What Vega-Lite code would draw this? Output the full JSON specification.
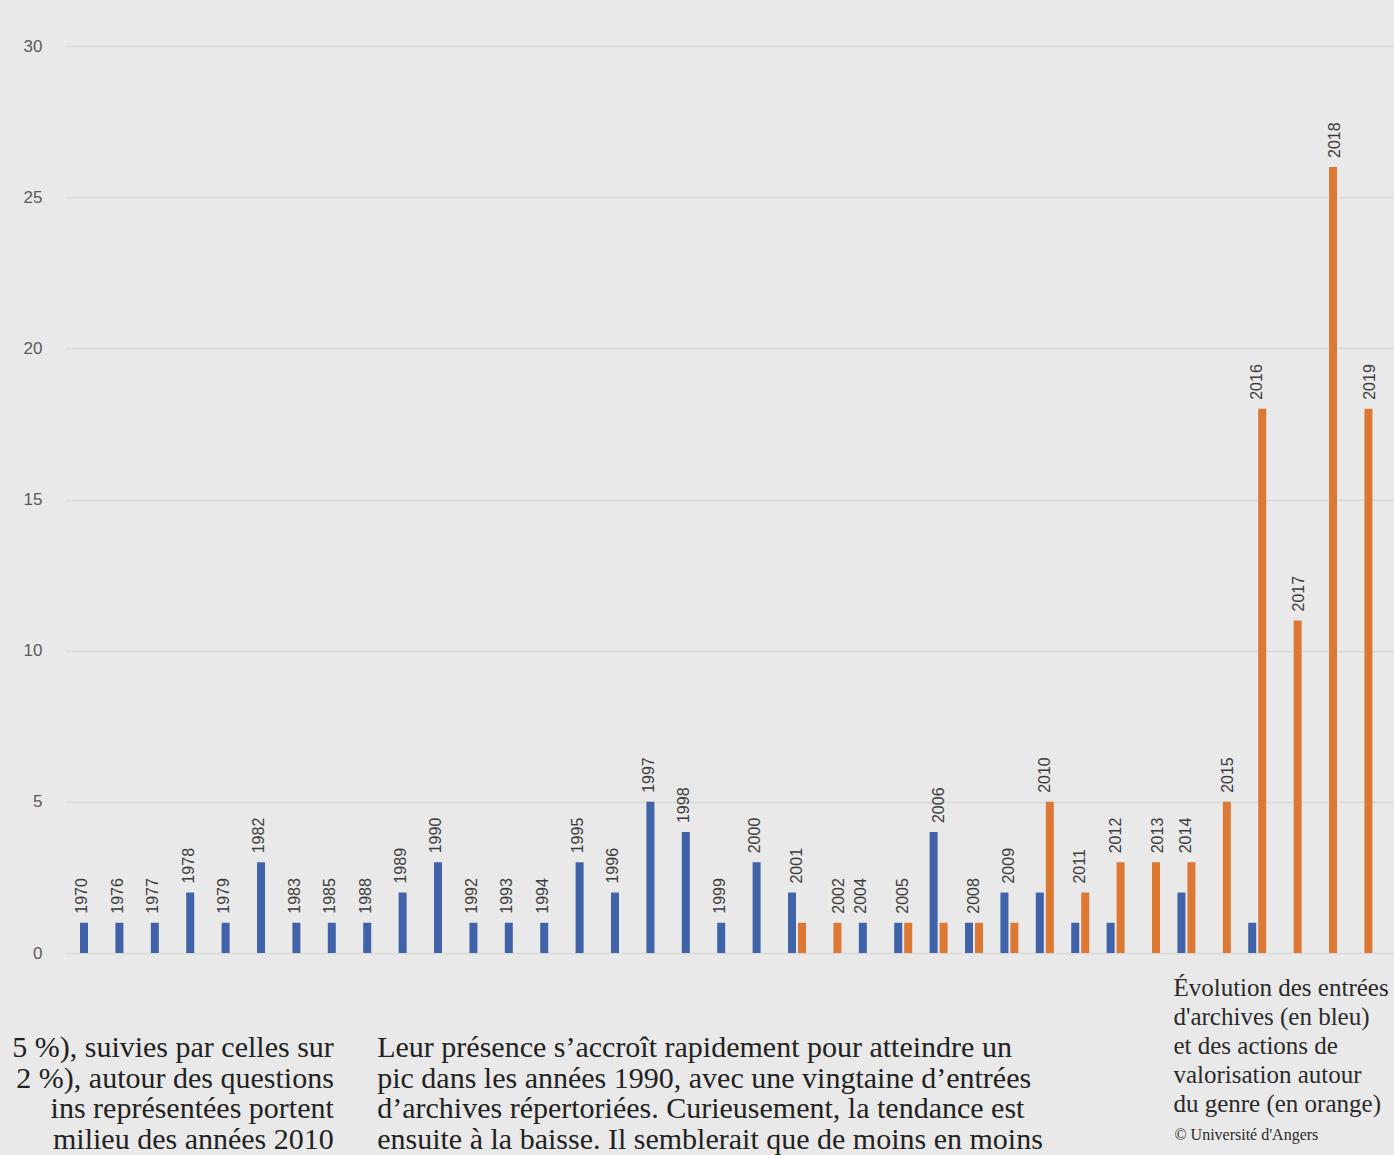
{
  "$schema": "https://vega.github.io/schema/vega-lite/v6.json",
  "width": 1329,
  "height": 907,
  "autosize": {"type": "none"},
  "padding": {"left": 65, "top": 46, "right": 0, "bottom": 202},
  "background": "#e9e9e9",
  "config": {"view": {"stroke": null}, "font": "Liberation Sans"},
  "data": {
    "values": [
      {"year": "1970", "series": "archives", "value": 1},
      {"year": "1976", "series": "archives", "value": 1},
      {"year": "1977", "series": "archives", "value": 1},
      {"year": "1978", "series": "archives", "value": 2},
      {"year": "1979", "series": "archives", "value": 1},
      {"year": "1982", "series": "archives", "value": 3},
      {"year": "1983", "series": "archives", "value": 1},
      {"year": "1985", "series": "archives", "value": 1},
      {"year": "1988", "series": "archives", "value": 1},
      {"year": "1989", "series": "archives", "value": 2},
      {"year": "1990", "series": "archives", "value": 3},
      {"year": "1992", "series": "archives", "value": 1},
      {"year": "1993", "series": "archives", "value": 1},
      {"year": "1994", "series": "archives", "value": 1},
      {"year": "1995", "series": "archives", "value": 3},
      {"year": "1996", "series": "archives", "value": 2},
      {"year": "1997", "series": "archives", "value": 5},
      {"year": "1998", "series": "archives", "value": 4},
      {"year": "1999", "series": "archives", "value": 1},
      {"year": "2000", "series": "archives", "value": 3},
      {"year": "2001", "series": "archives", "value": 2},
      {"year": "2001", "series": "valorisation", "value": 1},
      {"year": "2002", "series": "valorisation", "value": 1},
      {"year": "2004", "series": "archives", "value": 1},
      {"year": "2005", "series": "archives", "value": 1},
      {"year": "2005", "series": "valorisation", "value": 1},
      {"year": "2006", "series": "archives", "value": 4},
      {"year": "2006", "series": "valorisation", "value": 1},
      {"year": "2008", "series": "archives", "value": 1},
      {"year": "2008", "series": "valorisation", "value": 1},
      {"year": "2009", "series": "archives", "value": 2},
      {"year": "2009", "series": "valorisation", "value": 1},
      {"year": "2010", "series": "archives", "value": 2},
      {"year": "2010", "series": "valorisation", "value": 5},
      {"year": "2011", "series": "archives", "value": 1},
      {"year": "2011", "series": "valorisation", "value": 2},
      {"year": "2012", "series": "archives", "value": 1},
      {"year": "2012", "series": "valorisation", "value": 3},
      {"year": "2013", "series": "valorisation", "value": 3},
      {"year": "2014", "series": "archives", "value": 2},
      {"year": "2014", "series": "valorisation", "value": 3},
      {"year": "2015", "series": "valorisation", "value": 5},
      {"year": "2016", "series": "archives", "value": 1},
      {"year": "2016", "series": "valorisation", "value": 18},
      {"year": "2017", "series": "valorisation", "value": 11},
      {"year": "2018", "series": "valorisation", "value": 26},
      {"year": "2019", "series": "valorisation", "value": 18}
    ]
  },
  "resolve": {"scale": {"xOffset": "independent"}},
  "layer": [
    {
      "mark": {"type": "bar"},
      "encoding": {
        "x": {
          "field": "year",
          "type": "ordinal",
          "scale": {"paddingInner": 0.435, "paddingOuter": 0.4885, "align": 0.405},
          "axis": null
        },
        "xOffset": {
          "field": "series",
          "type": "nominal",
          "scale": {"domain": ["archives", "valorisation"], "paddingInner": 0.2, "paddingOuter": 0.1}
        },
        "y": {
          "field": "value",
          "type": "quantitative",
          "scale": {"domain": [0, 30], "nice": false, "zero": true},
          "axis": {
            "values": [0, 5, 10, 15, 20, 25, 30],
            "title": null,
            "domain": false,
            "ticks": false,
            "labelPadding": 23,
            "labelFont": "Liberation Sans",
            "labelFontSize": 17,
            "labelColor": "#5a5a5a",
            "grid": true,
            "gridColor": "#d9d9d9",
            "gridWidth": 1.5
          }
        },
        "color": {
          "field": "series",
          "type": "nominal",
          "scale": {"domain": ["archives", "valorisation"], "range": ["#3f62a8", "#dd7734"]},
          "legend": null
        }
      }
    },
    {
      "transform": [
        {"joinaggregate": [{"op": "max", "field": "value", "as": "top"}, {"op": "count", "as": "n"}], "groupby": ["year"]},
        {"calculate": "datum.n == 2 ? 'mid' : datum.series", "as": "anchor"},
        {"filter": "datum.n == 1 || datum.series == 'archives'"}
      ],
      "mark": {"type": "text", "angle": 270, "align": "left", "baseline": "middle", "dx": 9, "font": "Liberation Sans", "fontSize": 16, "color": "#3c3c3c"},
      "encoding": {
        "x": {"field": "year", "type": "ordinal"},
        "xOffset": {
          "field": "anchor",
          "type": "nominal",
          "scale": {"domain": ["archives", "mid", "valorisation"], "paddingInner": 0, "paddingOuter": 0.5}
        },
        "y": {"field": "top", "type": "quantitative"},
        "text": {"field": "year"}
      }
    },
    {
      "data": {"values": [{"block": "col1", "text": "5 %), suivies par celles sur\n2 %), autour des questions\nins représentées portent\nmilieu des années 2010"}]},
      "mark": {"type": "text", "align": "right", "baseline": "alphabetic", "dx": -3, "lineBreak": "\n", "lineHeight": 30.5, "font": "Liberation Serif", "fontSize": 30, "color": "#222222"},
      "encoding": {
        "x": {"datum": "1985", "type": "ordinal"},
        "y": {"datum": -3.45, "type": "quantitative"},
        "text": {"field": "text"}
      }
    },
    {
      "data": {"values": [{"block": "col2", "text": "Leur présence s’accroît rapidement pour atteindre un\npic dans les années 1990, avec une vingtaine d’entrées\nd’archives répertoriées. Curieusement, la tendance est\nensuite à la baisse. Il semblerait que de moins en moins"}]},
      "mark": {"type": "text", "align": "left", "baseline": "alphabetic", "dx": 5, "lineBreak": "\n", "lineHeight": 30.5, "font": "Liberation Serif", "fontSize": 30, "color": "#222222"},
      "encoding": {
        "x": {"datum": "1988", "type": "ordinal"},
        "y": {"datum": -3.45, "type": "quantitative"},
        "text": {"field": "text"}
      }
    },
    {
      "data": {"values": [{"block": "caption", "text": "Évolution des entrées\nd'archives (en bleu)\net des actions de\nvalorisation autour\ndu genre (en orange)"}]},
      "mark": {"type": "text", "align": "left", "baseline": "alphabetic", "dx": -13, "lineBreak": "\n", "lineHeight": 29, "font": "Liberation Serif", "fontSize": 25, "color": "#2a2a2a"},
      "encoding": {
        "x": {"datum": "2014", "type": "ordinal"},
        "y": {"datum": -1.42, "type": "quantitative"},
        "text": {"field": "text"}
      }
    },
    {
      "data": {"values": [{"block": "credit", "text": "© Université d'Angers"}]},
      "mark": {"type": "text", "align": "left", "baseline": "alphabetic", "dx": -12, "font": "Liberation Serif", "fontSize": 16, "color": "#2a2a2a"},
      "encoding": {
        "x": {"datum": "2014", "type": "ordinal"},
        "y": {"datum": -6.19, "type": "quantitative"},
        "text": {"field": "text"}
      }
    }
  ]
}
